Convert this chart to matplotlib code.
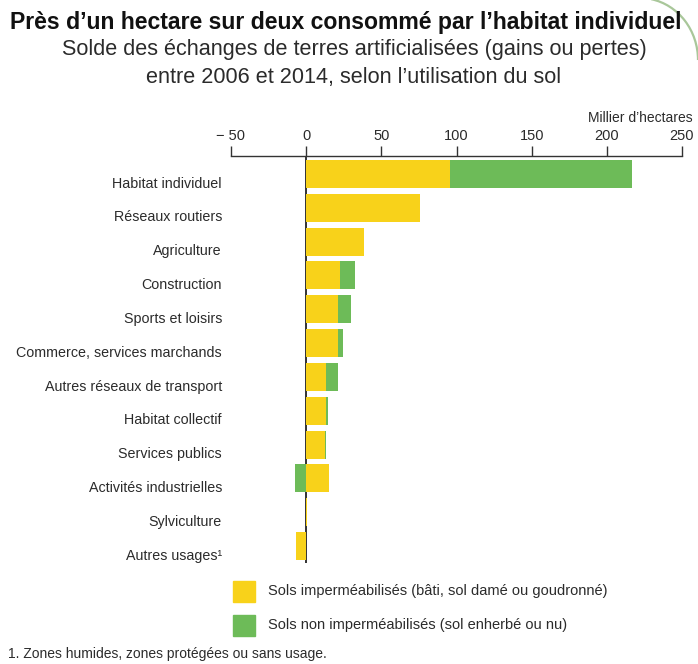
import matplotlib
matplotlib.use("Agg")
import matplotlib.pyplot as plt
from matplotlib import font_manager as fm
from matplotlib.patches import Arc
import numpy as np

categories = ["Habitat individuel", "Réseaux routiers", "Agriculture", "Construction",
              "Sports et loisirs", "Commerce, services marchands",
              "Autres réseaux de transport", "Habitat collectif", "Services publics",
              "Activités industrielles", "Sylviculture", "Autres usages¹"]
impermeabilises = [96, 75.5, 38.5, 22.5, 21, 21.5, 13.5, 13, 12.5, 15.5, 0.6, -7]
non_impermeabilises = [121, 0, 0, 10, 9, 3, 8, 1.5, 0.5, -7.5, 0, 0]
xticks = [-50, 0, 50, 100, 150, 200, 250]
xticklabels = ["\u2212 50", "0", "50", "100", "150", "200", "250"]

names = {f.name for f in fm.fontManager.ttflist}
narrow = "Liberation Sans Narrow" if "Liberation Sans Narrow" in names else "Liberation Sans"
FAM = [narrow, "DejaVu Sans"]

YELLOW = "#F8D21A"
GREEN = "#6DBB58"
TXT = "#2b2b2b"

fig = plt.figure(figsize=(6.98, 6.64), dpi=100)
fig.patch.set_facecolor("white")
ax = fig.add_axes([231/698, 1-563/664, 451/698, 407/664])

imp = np.array(impermeabilises, dtype=float)
non = np.array(non_impermeabilises, dtype=float)
y = np.arange(len(categories))
left_non = np.where((non >= 0) & (imp >= 0), imp, np.where(non < 0, np.minimum(imp, 0), 0))

ax.axvline(0, color="#222222", lw=1.3, zorder=1)
ax.barh(y, imp, height=0.83, color=YELLOW, zorder=2)
ax.barh(y, non, left=left_non, height=0.83, color=GREEN, zorder=2)

ax.set_xlim(-50, 250)
ax.set_ylim(11.5, -0.53)
for s in ["right", "bottom", "left"]:
    ax.spines[s].set_visible(False)
ax.spines["top"].set_color("#333333")
ax.spines["top"].set_linewidth(1.0)
ax.xaxis.tick_top()
ax.set_xticks(xticks)
ax.set_xticklabels(xticklabels, fontfamily=FAM, fontsize=10.5, color=TXT)
ax.tick_params(axis="x", direction="out", length=7, width=1, color="#333333", pad=2)
ax.set_yticks([])

for i, c in enumerate(categories):
    ax.annotate(c, xy=(0, i), xycoords=("axes fraction", "data"),
                xytext=(-6.5, -7), textcoords="offset points",
                ha="right", va="center", fontsize=10.3, color=TXT, fontfamily=FAM)

fig.text(693/698, 1-118/664, "Millier d\u2019hectares", ha="right", va="center",
         fontsize=10, color=TXT, fontfamily=FAM)

fig.text(10/698, 1-22/664, "Près d\u2019un hectare sur deux consommé par l\u2019habitat individuel",
         ha="left", va="center", fontsize=16.6, fontweight="bold", color="#111111", fontfamily=FAM)
fig.text(354/698, 1-50/664, "Solde des échanges de terres artificialisées (gains ou pertes)",
         ha="center", va="center", fontsize=15.6, color=TXT, fontfamily=FAM)
fig.text(354/698, 1-77/664, "entre 2006 et 2014, selon l\u2019utilisation du sol",
         ha="center", va="center", fontsize=15.6, color=TXT, fontfamily=FAM)

# legend
lx, lw_, lh = 233, 22, 21
for yc, col, lab in [(591, YELLOW, "Sols imperméabilisés (bâti, sol damé ou goudronné)"),
                     (625, GREEN, "Sols non imperméabilisés (sol enherbé ou nu)")]:
    fig.patches.append(plt.Rectangle((lx/698, 1-(yc+lh/2)/664), lw_/698, lh/664,
                                     transform=fig.transFigure, color=col))
    fig.text(268/698, 1-yc/664, lab, ha="left", va="center", fontsize=10.5,
             color=TXT, fontfamily=FAM)

fig.text(8/698, 1-654/664, "1. Zones humides, zones protégées ou sans usage.",
         ha="left", va="center", fontsize=10, color=TXT, fontfamily=FAM)

# decorative frame corner (top right)
arc = Arc((640/698, 1-60/664), 2*58/698, 2*62/664, theta1=0, theta2=80,
          transform=fig.transFigure, color="#A9C79A", lw=1.6)
fig.patches.append(arc)

fig.savefig("out.png", dpi=100, facecolor="white")
